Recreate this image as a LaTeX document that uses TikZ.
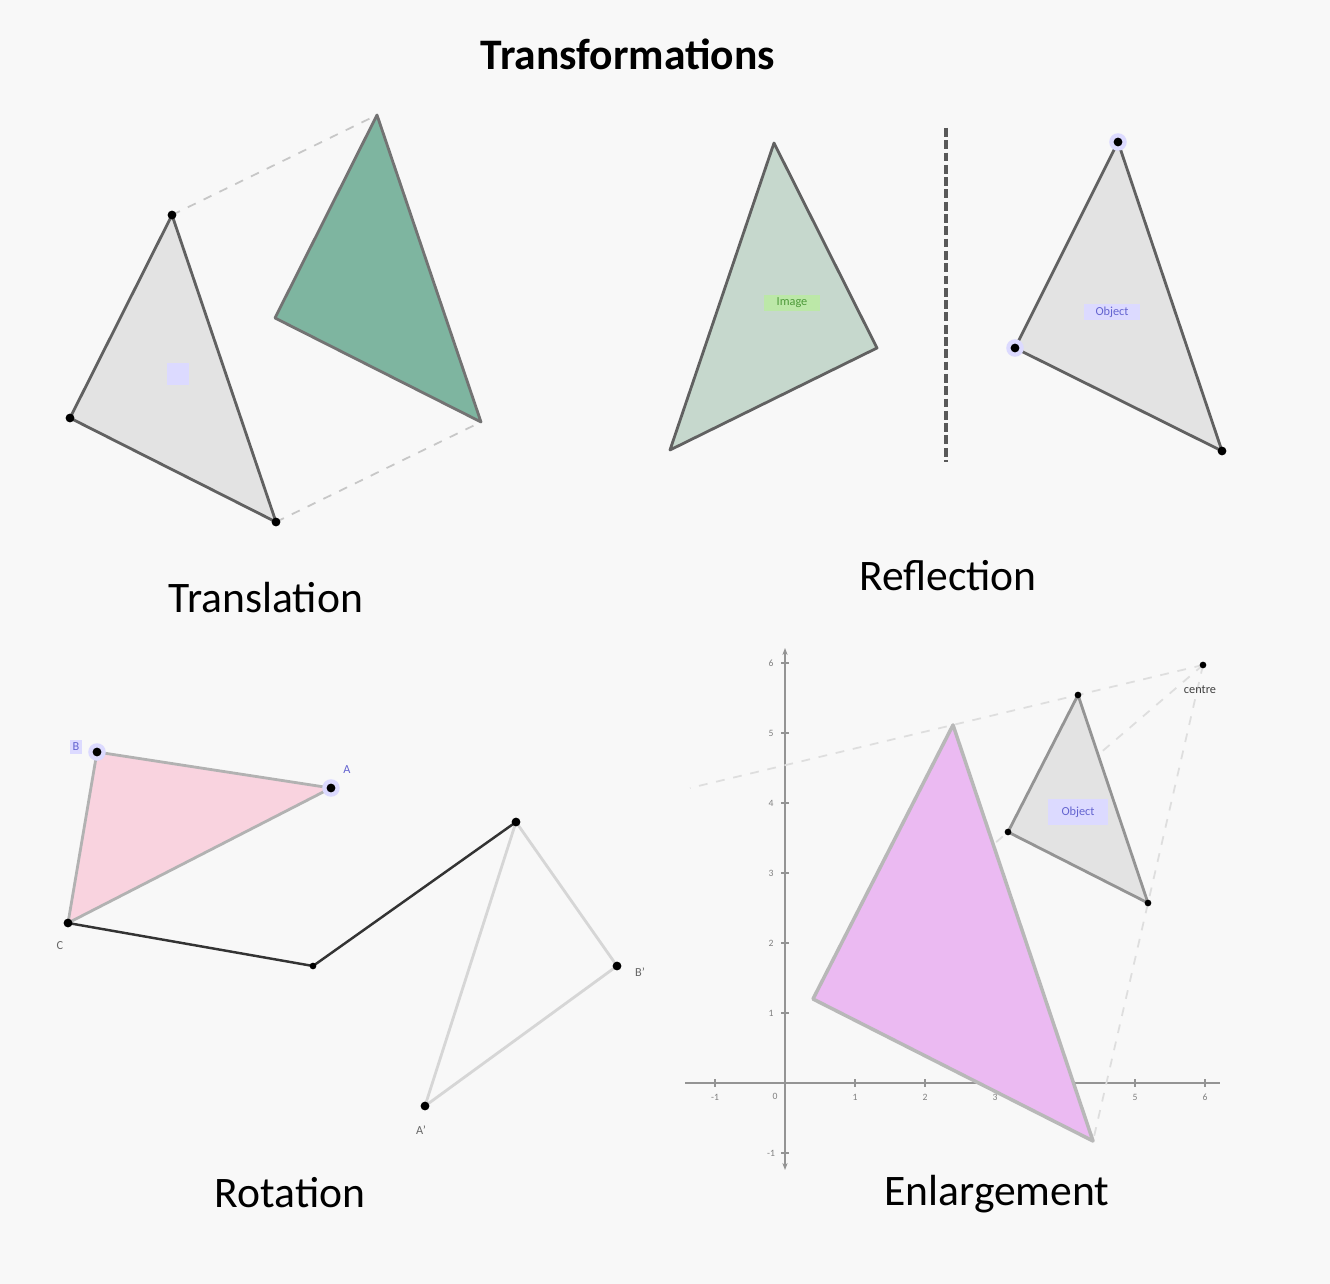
\documentclass[tikz,border=0pt]{standalone}
\usepackage{fontspec}
\setmainfont{Carlito}
\usetikzlibrary{arrows.meta}
\definecolor{paper}{HTML}{F8F8F8}
\definecolor{objgray}{HTML}{E3E3E3}
\definecolor{imggreen}{HTML}{7EB5A0}
\definecolor{reflfill}{HTML}{C6D8CD}
\definecolor{pinkfill}{HTML}{F9D3DF}
\definecolor{magfill}{HTML}{EBBAF2}
\definecolor{lavender}{HTML}{DCDAFF}
\definecolor{labelblue}{HTML}{6464D0}
\definecolor{lightgreen}{HTML}{BCE8A8}
\definecolor{darkgreen}{HTML}{4E9A3A}

\begin{document}
\begin{tikzpicture}[x=0.02cm, y=-0.02cm,
    ttl/.style={font=\bfseries\fontsize{24.8}{30}\selectfont, anchor=base, inner sep=0pt},
    heading/.style={font=\fontsize{24.8}{30}\selectfont, anchor=base, inner sep=0pt},
    rim/.style={draw=black!62, line width=1.6pt, line join=round},
    guide/.style={draw=black!22, line width=1pt, dash pattern=on 5pt off 5pt},
    fguide/.style={draw=black!13, line width=1pt, dash pattern=on 5pt off 5pt},
    mirror/.style={draw=black!65, line width=1.9pt, dash pattern=on 5pt off 2pt},
    axis/.style={draw=black!42, line width=1.3pt},
    dot/.style={circle, fill=black, inner sep=0pt, minimum size=5pt},
    sdot/.style={circle, fill=black, inner sep=0pt, minimum size=3.8pt},
    halo/.style={circle, fill=lavender, inner sep=0pt, minimum size=10pt},
    tag/.style={font=\fontsize{7}{8}\selectfont, inner sep=1.5pt},
    tick/.style={font=\fontsize{5.5}{6}\selectfont, text=black!50, inner sep=0pt}
]
\fill[paper] (0,0) rectangle (1330,1284);

\node[ttl] (title) at (628,70) {Transformations};
\node[heading] (trans) at (266,612) {Translation};
\node[heading] (refl) at (948,590) {Reflection};
\node[heading] (rot) at (290,1207) {Rotation};
\node[heading] (enl) at (997,1205) {Enlargement};

\coordinate (TA) at (172,215);
\coordinate (TB) at (70,418);
\coordinate (TC) at (276,522);
\coordinate (TA2) at (377,115);
\coordinate (TB2) at (275,318);
\coordinate (TC2) at (481,422);
\draw[guide] (TA) -- (TA2);
\draw[guide] (TC) -- (TC2);
\filldraw[rim, fill=objgray] (TA) -- (TB) -- (TC) -- cycle;
\filldraw[rim, fill=imggreen, draw=black!55] (TA2) -- (TB2) -- (TC2) -- cycle;
\foreach \p in {TA,TB,TC} \node[dot] (d\p) at (\p) {};
\node[fill=lavender, minimum width=13pt, minimum height=13pt, inner sep=0pt] (tlab) at (178,374) {};

\coordinate (M1) at (946,128);
\coordinate (M2) at (946,462);
\coordinate (RA) at (1118,142);
\coordinate (RB) at (1015,348);
\coordinate (RC) at (1222,451);
\coordinate (RA2) at (774,143);
\coordinate (RB2) at (877,348);
\coordinate (RC2) at (670,450);
\draw[mirror] (M1) -- (M2);
\filldraw[rim, fill=reflfill] (RA2) -- (RB2) -- (RC2) -- cycle;
\filldraw[rim, fill=objgray] (RA) -- (RB) -- (RC) -- cycle;
\node[halo] (hRA) at (RA) {};
\node[halo] (hRB) at (RB) {};
\foreach \p in {RA,RB,RC} \node[dot] (d\p) at (\p) {};
\node[tag, fill=lightgreen, text=darkgreen, minimum width=32pt] (rimg) at (792,303) {Image};
\node[tag, fill=lavender, text=labelblue, minimum width=32pt] (robj) at (1112,312) {Object};

\coordinate (PB) at (97,752);
\coordinate (PA) at (331,788);
\coordinate (PC) at (68,923);
\coordinate (PO) at (313,966);
\coordinate (PC2) at (516,822);
\coordinate (PB2) at (617,966);
\coordinate (PA2) at (425,1106);
\filldraw[fill=pinkfill, draw=black!30, line width=1.6pt, line join=round] (PB) -- (PA) -- (PC) -- cycle;
\draw[draw=black!16, line width=1.6pt, line join=round] (PC2) -- (PB2) -- (PA2) -- cycle;
\draw[black!80, line width=1.4pt] (PC) -- (PO) -- (PC2);
\node[halo] (hPB) at (PB) {};
\node[halo] (hPA) at (PA) {};
\foreach \p in {PB,PA,PC,PC2,PB2,PA2} \node[dot] (d\p) at (\p) {};
\node[sdot] (dPO) at (PO) {};
\node[tag, fill=lavender, text=labelblue] (lB) at (76,747) {B};
\node[tag, text=labelblue] (lA) at (347,770) {A};
\node[tag, text=black!60] (lC) at (60,946) {C};
\node[tag, text=black!60] (lB2) at (640,972) {B'};
\node[tag, text=black!60] (lA2) at (421,1130) {A'};

\coordinate (yt) at (785,648);
\coordinate (yb) at (785,1170);
\coordinate (xl) at (685,1083);
\coordinate (xr) at (1220,1083);
\draw[axis, {Stealth[length=4pt]}-{Stealth[length=4pt]}] (yb) -- (yt);
\draw[axis] (xl) -- (xr);
\foreach \k in {-1,1,2,3,4,5,6} {
  \draw[axis, line width=0.6pt] ({785+70*(\k)},1079) -- ({785+70*(\k)},1087);
  \node[tick] (xt\k) at ({785+70*(\k)},1097) {\k};
  \draw[axis, line width=0.6pt] (781,{1083-70*(\k)}) -- (789,{1083-70*(\k)});
  \node[tick] (yt\k) at (771,{1083-70*(\k)}) {\k};
}
\node[tick] (xt0) at (775,1096) {0};

\coordinate (EO) at (1203,665);
\coordinate (EA) at (1078,695);
\coordinate (EB) at (1008,832);
\coordinate (EC) at (1148,903);
\coordinate (EA2) at (953,725);
\coordinate (EB2) at (813,999);
\coordinate (EC2) at (1093,1141);
\coordinate (EA3) at (690,788);
\draw[fguide] (EO) -- (EA3);
\draw[fguide] (EO) -- (EB2);
\draw[fguide] (EO) -- (EC2);
\filldraw[fill=magfill, draw=black!28, line width=2pt, line join=round] (EA2) -- (EB2) -- (EC2) -- cycle;
\filldraw[rim, fill=objgray, draw=black!42] (EA) -- (EB) -- (EC) -- cycle;
\foreach \p in {EO,EA,EB,EC} \node[sdot] (d\p) at (\p) {};
\node[tag, fill=lavender, text=labelblue, minimum width=34pt, minimum height=15pt] (eobj) at (1078,812) {Object};
\node[tag, text=black!75] (ectr) at (1200,690) {centre};
\end{tikzpicture}
\end{document}
